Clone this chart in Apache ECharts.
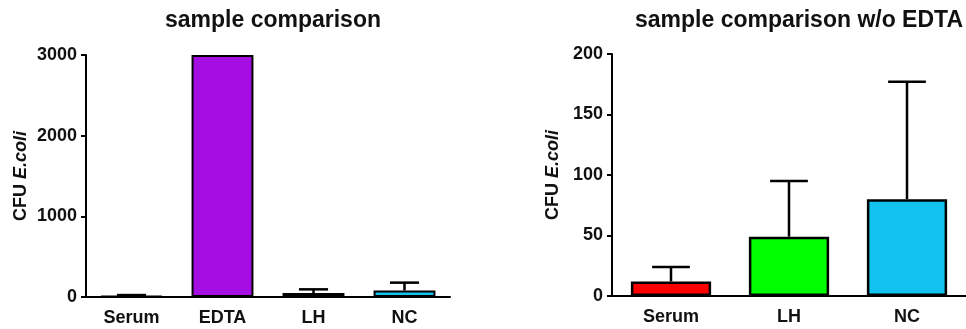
<!DOCTYPE html>
<html>
<head>
<meta charset="utf-8">
<script src="https://cdn.jsdelivr.net/npm/echarts@6/dist/echarts.min.js"></script>
<style>
html,body{margin:0;padding:0;background:#fff;}
#chart{width:966px;height:329px;}
</style>
</head>
<body>
<div id="chart"></div>
<script>
// ---- data ----
const leftCategories = ['Serum', 'EDTA', 'LH', 'NC'];
const leftMeans = [12, 3000, 49, 80];
const leftErrTop = [24, 3000, 95, 178];
const leftTicks = [0, 1000, 2000, 3000];

const rightCategories = ['Serum', 'LH', 'NC'];
const rightMeans = [12, 49, 80];
const rightErrTop = [24, 95, 177];
const rightTicks = [0, 50, 100, 150, 200];

const leftTitle = 'sample comparison';
const rightTitle = 'sample comparison w/o EDTA';

// ---- styles ----
const leftColors = ['#ff0000', '#a40ee2', '#2c7a2c', '#12c3ef'];
const rightColors = ['#ff0000', '#00ff00', '#12c3ef'];
const FONT = '"Liberation Sans", Arial, sans-serif';
const INK = '#111111';

function barData(vals, colors) {
  return vals.map((v, i) => ({ value: v, itemStyle: { color: colors[i] } }));
}
function errData(means, tops) {
  return means.map((m, i) => [i, m, tops[i]]);
}
function errRender(params, api) {
  const x = api.value(0);
  const lo = api.coord([x, api.value(1)]);
  const hi = api.coord([x, api.value(2)]);
  const band = api.size([1, 0])[0];
  const half = band * 0.16;
  if (Math.abs(lo[1] - hi[1]) < 0.5) return { type: 'group', children: [] };
  const st = { stroke: '#000', lineWidth: 2.5 };
  return {
    type: 'group',
    children: [
      { type: 'line', shape: { x1: hi[0], y1: lo[1], x2: hi[0], y2: hi[1] }, style: st },
      { type: 'line', shape: { x1: hi[0] - half, y1: hi[1], x2: hi[0] + half, y2: hi[1] }, style: st }
    ]
  };
}

function xAxis(idx, cats) {
  return {
    type: 'category', gridIndex: idx, data: cats,
    axisLine: { lineStyle: { color: '#000', width: 2 } },
    axisTick: { alignWithLabel: true, length: 5, lineStyle: { color: '#000', width: 2 } },
    axisLabel: { color: INK, fontFamily: FONT, fontWeight: 'bold', fontSize: 18, margin: 12 },
    splitLine: { show: false }
  };
}
function yAxis(idx, ticks, gap) {
  return {
    type: 'value', gridIndex: idx,
    min: ticks[0], max: ticks[ticks.length - 1], interval: ticks[1] - ticks[0],
    axisLine: { show: true, lineStyle: { color: '#000', width: 2 } },
    axisTick: { show: true, length: 5, lineStyle: { color: '#000', width: 2 } },
    axisLabel: { color: INK, fontFamily: FONT, fontWeight: 'bold', fontSize: 18, margin: 9,
      formatter: v => String(v) },
    splitLine: { show: false },
    name: '{a|CFU }{b|E.coli}',
    nameLocation: 'middle', nameRotate: 90, nameGap: gap,
    nameTextStyle: {
      rich: {
        a: { fontFamily: FONT, fontWeight: 'bold', fontSize: 18, color: INK },
        b: { fontFamily: FONT, fontWeight: 'bold', fontStyle: 'italic', fontSize: 18, color: INK }
      }
    }
  };
}

const chart = echarts.init(document.getElementById('chart'), null, { renderer: 'canvas' });
chart.setOption({
  animation: false,
  backgroundColor: '#ffffff',
  title: [
    { text: leftTitle, left: 268, top: 4, textAlign: 'center',
      textStyle: { fontFamily: FONT, fontWeight: 'bold', fontSize: 23, color: INK } },
    { text: rightTitle, left: 794, top: 4, textAlign: 'center',
      textStyle: { fontFamily: FONT, fontWeight: 'bold', fontSize: 23, color: INK } }
  ],
  grid: [
    { left: 86, top: 55, width: 364, height: 242 },
    { left: 612, top: 54, width: 365, height: 242 }
  ],
  xAxis: [xAxis(0, leftCategories), xAxis(1, rightCategories)],
  yAxis: [yAxis(0, leftTicks, 56), yAxis(1, rightTicks, 50)],
  series: [
    { type: 'bar', xAxisIndex: 0, yAxisIndex: 0, barWidth: '68%',
      data: barData(leftMeans, leftColors),
      itemStyle: { borderColor: '#000', borderWidth: 2 } },
    { type: 'custom', xAxisIndex: 0, yAxisIndex: 0, renderItem: errRender,
      data: errData(leftMeans, leftErrTop), z: 3 },
    { type: 'bar', xAxisIndex: 1, yAxisIndex: 1, barWidth: '68%',
      data: barData(rightMeans, rightColors),
      itemStyle: { borderColor: '#000', borderWidth: 2.5 } },
    { type: 'custom', xAxisIndex: 1, yAxisIndex: 1, renderItem: errRender,
      data: errData(rightMeans, rightErrTop), z: 3 }
  ]
});
</script>
</body>
</html>
